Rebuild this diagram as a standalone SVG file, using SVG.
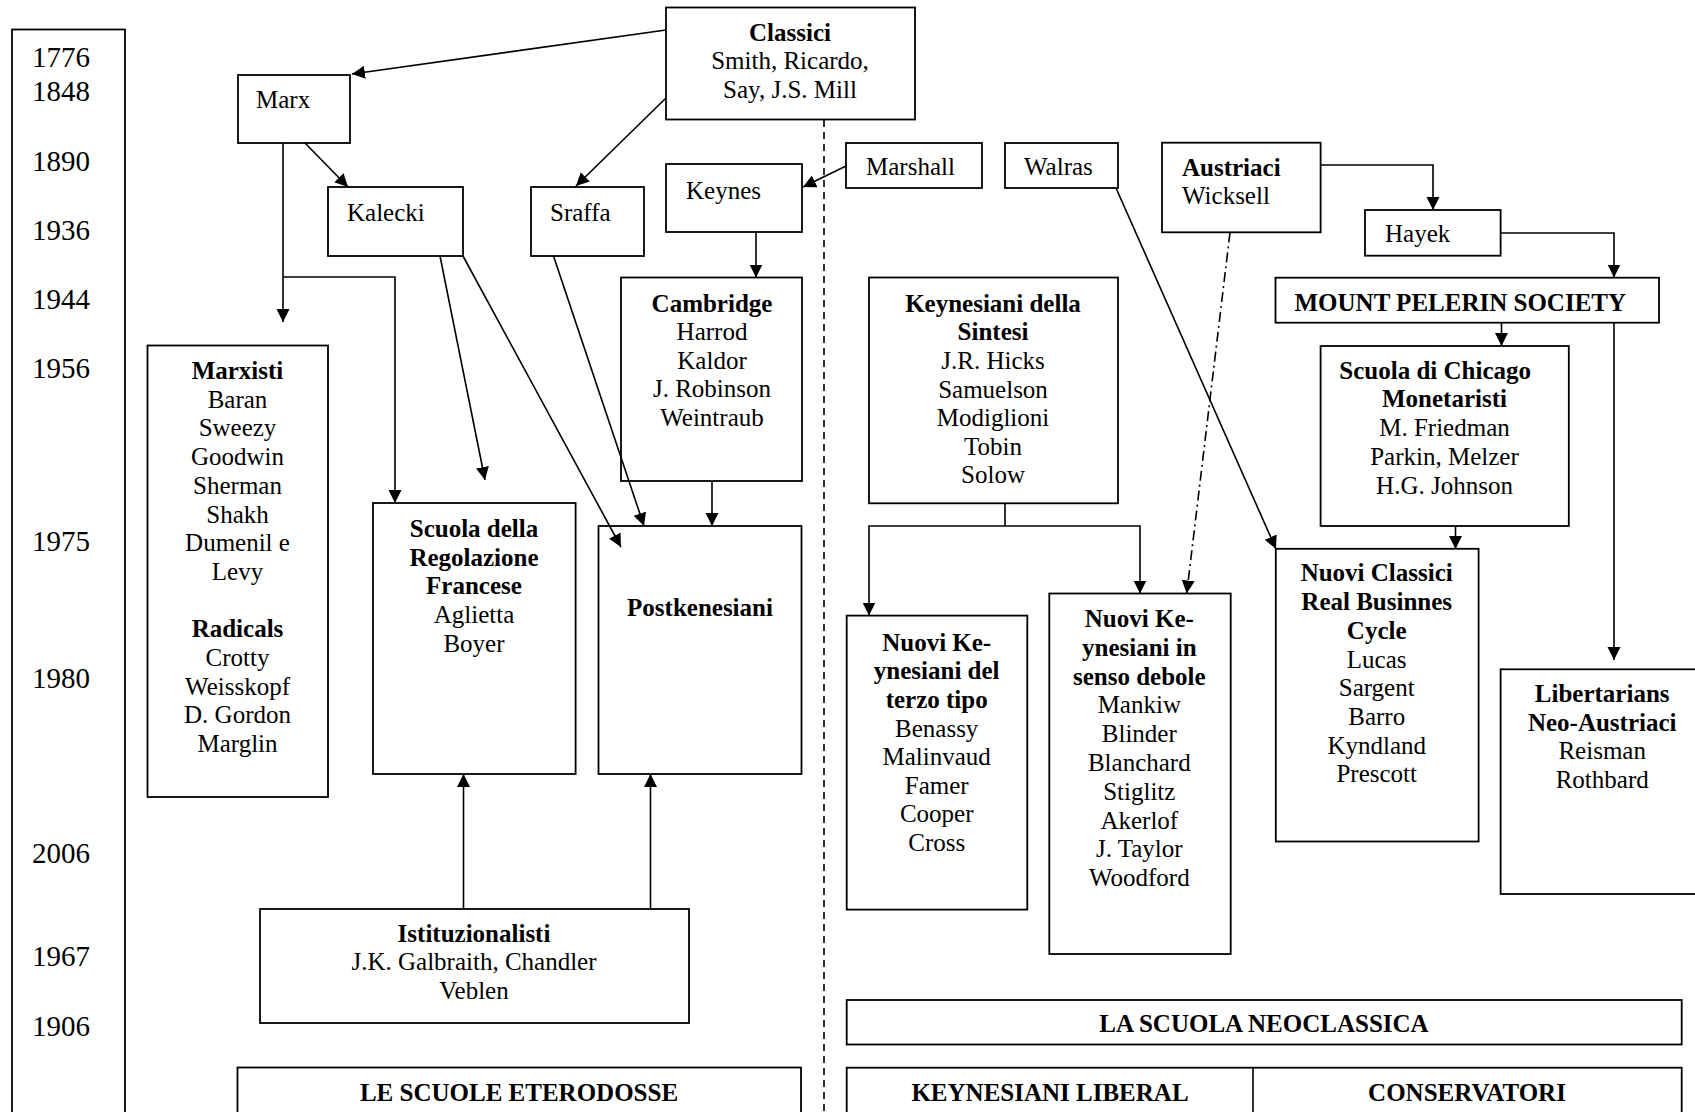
<svg xmlns="http://www.w3.org/2000/svg" width="1695" height="1112" viewBox="0 0 1695 1112">
<style>
.b{fill:#fff;stroke:#000;stroke-width:1.8}
.t{font-family:"Liberation Serif","Times New Roman",serif;font-size:25px;fill:#000}
.c{text-anchor:middle}
.bd{font-weight:bold}
.yr{font-size:29px}
.ln{fill:none;stroke:#000;stroke-width:1.6}
.dash{stroke-dasharray:7,5}
.dd{stroke-dasharray:10,4,2,4}
</style>
<defs>
<marker id="ah" markerUnits="userSpaceOnUse" markerWidth="14" markerHeight="14" refX="13" refY="6.5" orient="auto">
<path d="M0,0 L13,6.5 L0,13 z" fill="#000"/>
</marker>
</defs>
<rect width="1695" height="1112" fill="#fff"/>

<g id="years">
<rect class="b" x="12" y="29.5" width="113" height="1100"/>
<text class="t yr" x="32" y="67">1776</text>
<text class="t yr" x="32" y="101">1848</text>
<text class="t yr" x="32" y="171">1890</text>
<text class="t yr" x="32" y="240">1936</text>
<text class="t yr" x="32" y="309">1944</text>
<text class="t yr" x="32" y="378">1956</text>
<text class="t yr" x="32" y="551">1975</text>
<text class="t yr" x="32" y="688">1980</text>
<text class="t yr" x="32" y="863">2006</text>
<text class="t yr" x="32" y="966">1967</text>
<text class="t yr" x="32" y="1036">1906</text>
</g>

<g id="classici">
<rect class="b" x="666" y="7.5" width="249" height="112"/>
<text class="t c" x="790"><tspan class="bd" x="790" y="40.7">Classici</tspan><tspan x="790" y="69.4">Smith, Ricardo,</tspan><tspan x="790" y="98">Say, J.S. Mill</tspan></text>
</g>

<g id="marx">
<rect class="b" x="238" y="75" width="112" height="68"/>
<text class="t" x="256" y="108">Marx</text>
</g>

<g id="kalecki">
<rect class="b" x="328" y="187" width="135" height="69"/>
<text class="t" x="347" y="221">Kalecki</text>
</g>

<g id="sraffa">
<rect class="b" x="531" y="187" width="113" height="69"/>
<text class="t" x="550" y="221">Sraffa</text>
</g>

<g id="keynes">
<rect class="b" x="666" y="164" width="136" height="68"/>
<text class="t" x="686" y="199">Keynes</text>
</g>

<g id="marshall">
<rect class="b" x="846" y="143" width="136" height="45"/>
<text class="t" x="866" y="175">Marshall</text>
</g>

<g id="walras">
<rect class="b" x="1005" y="143" width="113" height="45"/>
<text class="t" x="1024" y="175">Walras</text>
</g>

<g id="austriaci">
<rect class="b" x="1162" y="142.7" width="158.6" height="89.6"/>
<text class="t"><tspan class="bd" x="1182" y="175.7">Austriaci</tspan><tspan x="1182" y="204">Wicksell</tspan></text>
</g>

<g id="hayek">
<rect class="b" x="1365" y="210" width="135.6" height="45.7"/>
<text class="t" x="1385" y="241.5">Hayek</text>
</g>

<g id="mps">
<rect class="b" x="1275.5" y="277.7" width="383.5" height="45"/>
<text class="t bd" x="1294.5" y="310.7">MOUNT PELERIN SOCIETY</text>
</g>

<g id="marxisti">
<rect class="b" x="147.5" y="345.5" width="180.5" height="451.5"/>
<text class="t c"><tspan class="bd" x="237.5" y="379">Marxisti</tspan><tspan x="237.5" y="407.7">Baran</tspan><tspan x="237.5" y="436.4">Sweezy</tspan><tspan x="237.5" y="465">Goodwin</tspan><tspan x="237.5" y="493.8">Sherman</tspan><tspan x="237.5" y="522.5">Shakh</tspan><tspan x="237.5" y="551">Dumenil e</tspan><tspan x="237.5" y="580">Levy</tspan><tspan class="bd" x="237.5" y="637">Radicals</tspan><tspan x="237.5" y="666">Crotty</tspan><tspan x="237.5" y="694.7">Weisskopf</tspan><tspan x="237.5" y="723.3">D. Gordon</tspan><tspan x="237.5" y="752">Marglin</tspan></text>
</g>

<g id="regolazione">
<rect class="b" x="373" y="503" width="202.6" height="271"/>
<text class="t c"><tspan class="bd" x="474" y="537">Scuola della</tspan><tspan class="bd" x="474" y="565.7">Regolazione</tspan><tspan class="bd" x="474" y="594.4">Francese</tspan><tspan x="474" y="623">Aglietta</tspan><tspan x="474" y="651.7">Boyer</tspan></text>
</g>

<g id="cambridge">
<rect class="b" x="621" y="277.5" width="181" height="203.5"/>
<text class="t c"><tspan class="bd" x="712" y="311.5">Cambridge</tspan><tspan x="712" y="340">Harrod</tspan><tspan x="712" y="368.6">Kaldor</tspan><tspan x="712" y="397.2">J. Robinson</tspan><tspan x="712" y="425.8">Weintraub</tspan></text>
</g>

<g id="postkenesiani">
<rect class="b" x="598.5" y="526" width="203" height="248"/>
<text class="t c bd" x="700" y="616">Postkenesiani</text>
</g>

<g id="istituzionalisti">
<rect class="b" x="260" y="909" width="429" height="114"/>
<text class="t c"><tspan class="bd" x="474" y="941.7">Istituzionalisti</tspan><tspan x="474" y="970.3">J.K. Galbraith, Chandler</tspan><tspan x="474" y="999">Veblen</tspan></text>
</g>

<g id="eterodosse">
<rect class="b" x="237.5" y="1067.5" width="563.5" height="60"/>
<text class="t c bd" x="519" y="1100.7">LE SCUOLE ETERODOSSE</text>
</g>

<g id="sintesi">
<rect class="b" x="869" y="277.5" width="249" height="225.8"/>
<text class="t c"><tspan class="bd" x="993" y="311.7">Keynesiani della</tspan><tspan class="bd" x="993" y="340.3">Sintesi</tspan><tspan x="993" y="368.9">J.R. Hicks</tspan><tspan x="993" y="397.5">Samuelson</tspan><tspan x="993" y="426.1">Modiglioni</tspan><tspan x="993" y="454.7">Tobin</tspan><tspan x="993" y="483.3">Solow</tspan></text>
</g>

<g id="nk-terzo">
<rect class="b" x="846.7" y="615.6" width="180.6" height="294"/>
<text class="t c"><tspan class="bd" x="936.7" y="650.8">Nuovi Ke-</tspan><tspan class="bd" x="936.7" y="679.4">ynesiani del</tspan><tspan class="bd" x="936.7" y="708">terzo tipo</tspan><tspan x="936.7" y="736.6">Benassy</tspan><tspan x="936.7" y="765.2">Malinvaud</tspan><tspan x="936.7" y="793.8">Famer</tspan><tspan x="936.7" y="822.4">Cooper</tspan><tspan x="936.7" y="851">Cross</tspan></text>
</g>

<g id="nk-debole">
<rect class="b" x="1049.3" y="593.5" width="181.4" height="360.5"/>
<text class="t c"><tspan class="bd" x="1139.3" y="627">Nuovi Ke-</tspan><tspan class="bd" x="1139.3" y="655.8">ynesiani in</tspan><tspan class="bd" x="1139.3" y="684.6">senso debole</tspan><tspan x="1139.3" y="713.4">Mankiw</tspan><tspan x="1139.3" y="742.2">Blinder</tspan><tspan x="1139.3" y="771">Blanchard</tspan><tspan x="1139.3" y="799.8">Stiglitz</tspan><tspan x="1139.3" y="828.6">Akerlof</tspan><tspan x="1139.3" y="857.4">J. Taylor</tspan><tspan x="1139.3" y="886.2">Woodford</tspan></text>
</g>

<g id="chicago">
<rect class="b" x="1320.6" y="346" width="248.2" height="180"/>
<text class="t bd" x="1339.3" y="378.5">Scuola di Chicago</text>
<text class="t c"><tspan class="bd" x="1444.5" y="407">Monetaristi</tspan><tspan x="1444.5" y="436">M. Friedman</tspan><tspan x="1444.5" y="465">Parkin, Melzer</tspan><tspan x="1444.5" y="494">H.G. Johnson</tspan></text>
</g>

<g id="nuovi-classici">
<rect class="b" x="1275.8" y="548.8" width="202.8" height="292.7"/>
<text class="t c"><tspan class="bd" x="1376.7" y="581.3">Nuovi Classici</tspan><tspan class="bd" x="1376.7" y="610.3">Real Businnes</tspan><tspan class="bd" x="1376.7" y="639.3">Cycle</tspan><tspan x="1376.7" y="667.5">Lucas</tspan><tspan x="1376.7" y="696.2">Sargent</tspan><tspan x="1376.7" y="724.9">Barro</tspan><tspan x="1376.7" y="753.6">Kyndland</tspan><tspan x="1376.7" y="782.3">Prescott</tspan></text>
</g>

<g id="libertarians">
<rect class="b" x="1500.6" y="669.3" width="210" height="224.7"/>
<text class="t c"><tspan class="bd" x="1602.2" y="701.8">Libertarians</tspan><tspan class="bd" x="1602.2" y="730.5">Neo-Austriaci</tspan><tspan x="1602.2" y="759.2">Reisman</tspan><tspan x="1602.2" y="787.9">Rothbard</tspan></text>
</g>

<g id="neoclassica">
<rect class="b" x="846.7" y="1000" width="835" height="44.5"/>
<text class="t c bd" x="1264" y="1031.7">LA SCUOLA NEOCLASSICA</text>
</g>

<g id="liberal-conservatori">
<rect class="b" x="846.7" y="1067.7" width="835" height="60"/>
<line class="ln" x1="1253" y1="1067.7" x2="1253" y2="1112"/>
<text class="t c bd" x="1050" y="1100.7">KEYNESIANI LIBERAL</text>
<text class="t c bd" x="1467" y="1100.7">CONSERVATORI</text>
</g>

<g id="connectors">
<line class="ln dash" x1="824" y1="120" x2="824" y2="1112"/>
<line class="ln" x1="666" y1="30" x2="352" y2="74" marker-end="url(#ah)"/>
<line class="ln" x1="666" y1="98" x2="576" y2="186" marker-end="url(#ah)"/>
<line class="ln" x1="305" y1="143" x2="348" y2="187" marker-end="url(#ah)"/>
<line class="ln" x1="283" y1="143" x2="283" y2="322" marker-end="url(#ah)"/>
<polyline class="ln" points="283,277 395,277 395,503" marker-end="url(#ah)"/>
<line class="ln" x1="440" y1="256" x2="485" y2="480" marker-end="url(#ah)"/>
<line class="ln" x1="463" y1="256" x2="621" y2="547" marker-end="url(#ah)"/>
<line class="ln" x1="553.5" y1="256" x2="644" y2="526" marker-end="url(#ah)"/>
<line class="ln" x1="756" y1="232" x2="756" y2="277.5" marker-end="url(#ah)"/>
<line class="ln" x1="846" y1="166" x2="803" y2="187" marker-end="url(#ah)"/>
<line class="ln" x1="712" y1="481" x2="712" y2="526" marker-end="url(#ah)"/>
<line class="ln" x1="463.5" y1="909" x2="463.5" y2="774" marker-end="url(#ah)"/>
<line class="ln" x1="650.5" y1="909" x2="650.5" y2="774" marker-end="url(#ah)"/>
<line class="ln" x1="1005" y1="503" x2="1005" y2="526"/>
<polyline class="ln" points="1005,526 869,526 869,615.5" marker-end="url(#ah)"/>
<polyline class="ln" points="1005,526 1140,526 1140,593.5" marker-end="url(#ah)"/>
<line class="ln dd" x1="1230" y1="232.5" x2="1186.7" y2="593.5" marker-end="url(#ah)"/>
<line class="ln" x1="1116" y1="188" x2="1276" y2="549" marker-end="url(#ah)"/>
<polyline class="ln" points="1320.5,165 1433,165 1433,210" marker-end="url(#ah)"/>
<polyline class="ln" points="1500.5,233 1614,233 1614,277.5" marker-end="url(#ah)"/>
<line class="ln" x1="1501.5" y1="322.5" x2="1501.5" y2="346" marker-end="url(#ah)"/>
<line class="ln" x1="1614" y1="322.5" x2="1614" y2="660" marker-end="url(#ah)"/>
<line class="ln" x1="1455.5" y1="526" x2="1455.5" y2="549" marker-end="url(#ah)"/>
</g>
</svg>
